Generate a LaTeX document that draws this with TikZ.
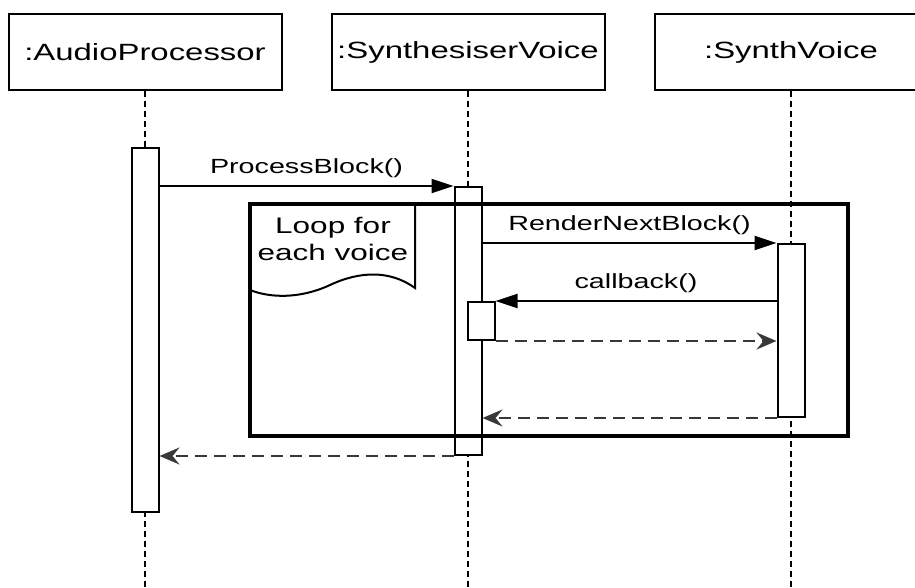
\documentclass[tikz,border=0pt]{standalone}
\usepackage{fontspec}
\setmainfont{Liberation Sans}[FakeStretch=1.4]
\usetikzlibrary{arrows.meta, positioning}

\begin{document}
\begin{tikzpicture}[
  x=1pt, y=-1pt,
  head/.style={draw, rectangle, line width=2pt, fill=white,
               minimum width=273pt, minimum height=76pt, inner sep=0pt,
               font=\fontsize{23.5}{27}\selectfont},
  bar/.style={draw, rectangle, line width=2pt, fill=white,
              minimum width=27pt, inner sep=0pt},
  life/.style={line width=2.2pt, dash pattern=on 6pt off 4pt},
  frame/.style={draw, rectangle, line width=4pt, inner sep=0pt, outer sep=0pt,
                minimum width=598pt, minimum height=232pt},
  call/.style={-{Triangle[length=22pt, width=14pt]}, line width=2pt},
  ret/.style={-{Stealth[length=20pt, width=17pt, inset=7pt]}, line width=2.2pt,
              dash pattern=on 12pt off 7pt, black!78},
  msg/.style={above=4pt, font=\fontsize{20.5}{24}\selectfont}
]
\clip (0,0) rectangle (915,588);
\coordinate (bottom) at (0,590);
\node[head] (ap) at (145,52) {:AudioProcessor};
\node[head] (sv) at (468,52) {:SynthesiserVoice};
\node[head] (v)  at (791,52) {:SynthVoice};
% Lifelines
\draw[life] (ap.south) -- (ap.south |- bottom);
\draw[life] (sv.south) -- (sv.south |- bottom);
\draw[life] (v.south)  -- (v.south |- bottom);
% Activations
\node[bar, minimum height=364pt] (apbar) at (145,330) {};
\node[bar, minimum height=268pt] (svbar) at (468,321) {};
\node[bar, minimum height=38pt]  (cbbar) at (481,321) {};
\node[bar, minimum height=173pt] (vbar)  at (791,330.5) {};
% Loop fragment
\node[frame] (loop) at (549,320) {};
\draw[line width=2pt] (loop.north west) -- ++(165,0) -- ++(0,84)
  .. controls +(-25,-18) and +(30,-14) .. ++(-85,-3)
  .. controls +(-30,14) and +(20,8) .. ++(-80,5);
\node[font=\fontsize{22.5}{27}\selectfont, align=center] (looplbl) at (333,239)
  {Loop for\\each voice};
% Calls
\draw[call] (apbar.east |- svbar.north) -- node[msg]{ProcessBlock()} (svbar.north west);
\draw[call] (svbar.east |- vbar.north) -- node[msg]{RenderNextBlock()} (vbar.north west);
\draw[call] (vbar.west |- cbbar.north) -- node[msg]{callback()} (cbbar.north east);
% Returns
\draw[ret] (cbbar.south east) -- (vbar.west |- cbbar.south);
\draw[ret] (vbar.south west) -- (svbar.east |- vbar.south);
\draw[ret] (svbar.south west) -- (apbar.east |- svbar.south);
\end{tikzpicture}
\end{document}
